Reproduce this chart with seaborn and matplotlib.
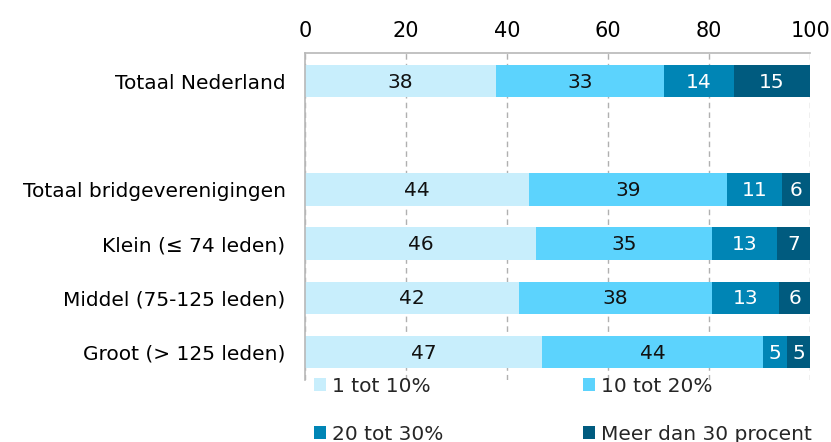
import numpy as np
import pandas as pd
import seaborn as sns
import matplotlib.pyplot as plt
from matplotlib.patches import Patch

# data (segment lengths estimated from the bars, labels are rounded)
categories = ["Totaal Nederland", "Totaal bridgeverenigingen", "Klein (≤ 74 leden)",
              "Middel (75-125 leden)", "Groot (> 125 leden)"]
order = ["Totaal Nederland", " ", "Totaal bridgeverenigingen", "Klein (≤ 74 leden)",
         "Middel (75-125 leden)", "Groot (> 125 leden)"]
tot_10 = [37.8, 44.4, 45.7, 42.4, 46.9]
tot_20 = [33.3, 39.2, 34.9, 38.2, 43.8]
tot_30 = [13.8, 10.8, 12.8, 13.3, 4.7]
meer_30 = [15.1, 5.6, 6.6, 6.1, 4.6]
series_names = ["1 tot 10%", "10 tot 20%", "20 tot 30%", "Meer dan 30 procent"]
colors = ["#C8EEFC", "#5CD3FD", "#0085B5", "#005B7F"]
text_colors = ["#111111", "#111111", "white", "white"]

sns.set_style("white")
plt.rcParams['font.family'] = ['DejaVu Sans']

df = pd.DataFrame({"cat": categories, series_names[0]: tot_10, series_names[1]: tot_20,
                   series_names[2]: tot_30, series_names[3]: meer_30})
cum = df[series_names].cumsum(axis=1)

fig = plt.figure(figsize=(8.31, 4.42), dpi=100)
ax = fig.add_axes([0.367, 0.14, 0.608, 0.74])

# draw stacked bars back to front (cumulative totals)
for i in range(len(series_names) - 1, -1, -1):
    sns.barplot(x=cum[series_names[i]], y=df["cat"], order=order, color=colors[i],
                width=0.6, saturation=1, ax=ax, zorder=2, linewidth=0)

# value labels
for i, name in enumerate(series_names):
    for j, cat in enumerate(categories):
        v = df.loc[j, name]
        pos = order.index(cat)
        ax.text(cum.loc[j, name] - v / 2, pos + 0.02, f"{v:.0f}", ha="center", va="center",
                fontsize=14.5, color=text_colors[i], zorder=3)

ax.set_xlim(0, 100)
ax.set_ylim(5.52, -0.52)
ax.set_xticks([0, 20, 40, 60, 80, 100])
ax.xaxis.tick_top()
ax.tick_params(axis="x", length=0, pad=9, labelsize=15, labelcolor="black")
ax.tick_params(axis="y", length=0, pad=14, labelsize=14.5, labelcolor="black")
ax.set_xlabel("")
ax.set_ylabel("")
ax.grid(axis="x", linestyle=(0, (4, 3)), color="#b0b0b0", linewidth=1, zorder=0)
for s in ["right", "bottom"]:
    ax.spines[s].set_visible(False)
for s in ["top", "left"]:
    ax.spines[s].set_color("#b8b8b8")
    ax.spines[s].set_linewidth(1.2)

# legend: row-wise order in two columns
idx = [0, 2, 1, 3]
handles = [Patch(facecolor=colors[k], edgecolor="none") for k in idx]
labels = [series_names[k] for k in idx]
fig.legend(handles, labels, loc="upper left", bbox_to_anchor=(0.378, 0.148),
           ncol=2, frameon=False, fontsize=14.5, handlelength=0.6, handleheight=0.6,
           handletextpad=0.3, columnspacing=6.9, labelspacing=1.45, borderpad=0,
           borderaxespad=0)

fig.savefig("out.png", dpi=100)
